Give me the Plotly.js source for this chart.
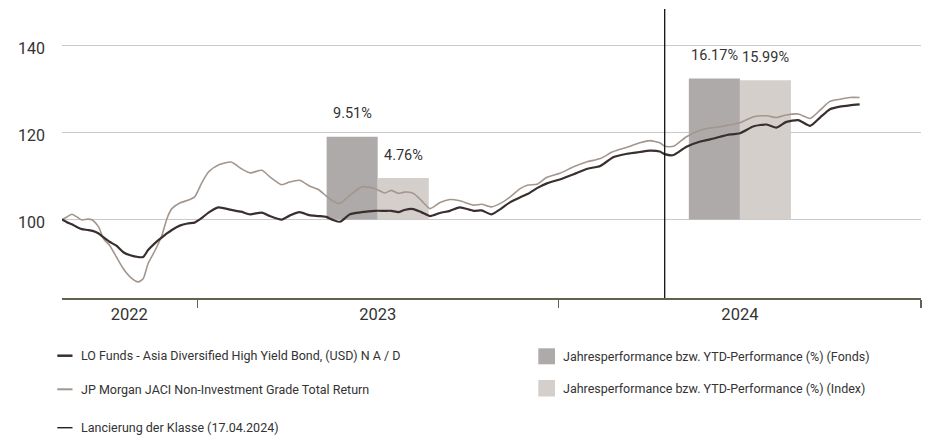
<!DOCTYPE html>
<html>
<head>
<meta charset="utf-8">
<script src="https://cdn.plot.ly/plotly-3.0.1.min.js"></script>
<style>html,body{margin:0;padding:0;background:#fff;}</style>
</head>
<body>
<div id="chart" style="width:927px;height:435px;"></div>
<script>
// ---------- DATA ----------
const dates = [
  '2022-08-17','2022-08-22','2022-08-27','2022-09-01','2022-09-06','2022-09-12','2022-09-17','2022-09-23','2022-09-28','2022-10-04',
  '2022-10-11','2022-10-18','2022-10-25','2022-11-02','2022-11-07','2022-11-12','2022-11-19','2022-11-26','2022-12-01','2022-12-06',
  '2022-12-14','2022-12-22','2022-12-29','2023-01-05','2023-01-12','2023-01-22','2023-02-04','2023-02-14','2023-02-23','2023-03-07',
  '2023-03-15','2023-03-27','2023-04-04','2023-04-14','2023-04-24','2023-05-03','2023-05-11','2023-05-18','2023-05-25','2023-06-04',
  '2023-06-16','2023-06-29','2023-07-09','2023-07-16','2023-07-23','2023-07-29','2023-08-07','2023-08-15','2023-08-24','2023-09-03',
  '2023-09-13','2023-09-23','2023-10-07','2023-10-15','2023-10-25','2023-11-03','2023-11-13','2023-11-23','2023-12-01','2023-12-10',
  '2023-12-20','2024-01-02','2024-01-16','2024-01-29','2024-02-12','2024-02-25','2024-03-10','2024-03-23','2024-04-02','2024-04-12',
  '2024-04-17','2024-04-26','2024-05-09','2024-05-23','2024-06-02','2024-06-12','2024-06-19','2024-07-02','2024-07-16','2024-07-29',
  '2024-08-08','2024-08-18','2024-08-30','2024-09-11','2024-09-21','2024-10-01','2024-10-11','2024-10-21','2024-10-31'
];
const fundValues = [
  100.0, 99.4, 98.9, 98.3, 97.8, 97.6, 97.4, 96.8, 95.9, 94.9,
  94.0, 92.5, 91.8, 91.4, 91.4, 93.0, 94.6, 95.9, 96.8, 97.6,
  98.6, 99.1, 99.3, 100.3, 101.6, 102.8, 102.2, 101.8, 101.2, 101.6,
  100.8, 100.0, 100.9, 101.7, 101.0, 100.8, 100.6, 99.9, 99.5, 101.2,
  101.7, 102.0, 102.0, 102.0, 101.7, 102.2, 102.4, 101.7, 100.8, 101.5,
  102.0, 102.8, 102.0, 102.1, 101.2, 102.4, 104.0, 105.1, 105.9, 107.2,
  108.3, 109.2, 110.4, 111.6, 112.3, 114.3, 115.1, 115.5, 115.8, 115.6,
  115.0, 114.8, 116.7, 117.9, 118.4, 119.0, 119.4, 119.8, 121.4, 121.8,
  121.1, 122.4, 122.8, 121.5, 123.4, 125.3, 125.9, 126.2, 126.4
];
const indexValues = [
  100.0, 100.6, 101.2, 100.6, 99.9, 100.1, 99.85, 98.3, 95.6, 94.1,
  91.4, 88.7, 86.8, 85.7, 86.4, 89.9, 92.9, 96.4, 100.2, 102.5,
  103.8, 104.4, 105.2, 108.3, 110.9, 112.5, 113.2, 111.7, 110.7, 111.3,
  109.8, 108.0, 108.6, 109.0, 107.7, 106.9, 105.4, 104.2, 103.7, 105.6,
  107.5, 107.1, 106.1, 106.7, 106.0, 106.3, 106.0, 104.4, 102.5, 103.9,
  104.6, 104.3, 103.3, 103.5, 102.9, 103.7, 105.2, 107.1, 107.9, 108.1,
  109.7, 110.6, 112.1, 113.2, 114.0, 115.6, 116.6, 117.6, 118.1, 117.6,
  116.8, 116.8, 119.0, 120.5, 121.0, 121.3, 121.6, 122.2, 123.6, 123.8,
  123.4, 124.0, 124.2, 123.2, 125.1, 127.1, 127.6, 128.0, 128.0
];
const perfDates = ['2023-07-02', '2024-07-02'];
const fundPerf = [9.51, 16.17];
const indexPerf = [4.76, 15.99];
const launchDate = '2024-04-17';
const yearLabels = ['2022', '2023', '2024'];
const yearLabelDates = ['2022-10-24', '2023-07-02', '2024-07-02'];
const yearBoundaries = ['2023-01-01', '2024-01-01', '2025-01-01'];
const yTicks = [100, 120, 140];
const seriesNames = [
  'LO Funds - Asia Diversified High Yield Bond, (USD) N A / D',
  'JP Morgan JACI Non-Investment Grade Total Return',
  'Lancierung der Klasse (17.04.2024)',
  'Jahresperformance bzw. YTD-Performance (%) (Fonds)',
  'Jahresperformance bzw. YTD-Performance (%) (Index)'
];

// ---------- STYLE ----------
const FONT = '"Roboto", "Liberation Sans", sans-serif';
const TXT = '#333333';
const C_FUND = '#3a2f2f';
const C_INDEX = '#a3968d';
const C_BAR_FUND = '#aeaaa9';
const C_BAR_INDEX = '#d4cfcb';
const C_AXIS = '#62624e';

const W = 927, H = 435;
const M = {l: 62, r: 6, t: 9, b: 137};
const PW = W - M.l - M.r, PH = H - M.t - M.b;
const px = x => (x - M.l) / PW;
const py = y => (H - M.b - y) / PH;

const barW = 51.6 * 86400000;

const traces = [
  {type: 'bar', name: seriesNames[3], x: perfDates, y: fundPerf, width: [barW, barW], offset: -barW,
   marker: {color: C_BAR_FUND, line: {width: 0}}, xaxis: 'x', yaxis: 'y', hoverinfo: 'skip'},
  {type: 'bar', name: seriesNames[4], x: perfDates, y: indexPerf, width: [barW, barW], offset: 0,
   marker: {color: C_BAR_INDEX, line: {width: 0}}, xaxis: 'x', yaxis: 'y', hoverinfo: 'skip'},
  {type: 'scatter', mode: 'lines', name: seriesNames[1], x: dates, y: indexValues, xaxis: 'x', yaxis: 'y2',
   line: {color: C_INDEX, width: 1.6, shape: 'spline', smoothing: 0.6}},
  {type: 'scatter', mode: 'lines', name: seriesNames[0], x: dates, y: fundValues, xaxis: 'x', yaxis: 'y2',
   line: {color: C_FUND, width: 2.2, shape: 'spline', smoothing: 0.6}}
];

const annotations = [];
perfDates.forEach((d, i) => {
  annotations.push({x: d, y: fundPerf[i], xref: 'x', yref: 'y', text: fundPerf[i].toFixed(2) + '%',
    showarrow: false, xshift: -25.5, yshift: 23, yanchor: 'middle', font: {size: 14.5, color: TXT}});
  annotations.push({x: d, y: indexPerf[i], xref: 'x', yref: 'y', text: indexPerf[i].toFixed(2) + '%',
    showarrow: false, xshift: 25.5, yshift: 23, yanchor: 'middle', font: {size: 14.5, color: TXT}});
});

const shapes = [
  {type: 'line', xref: 'x', yref: 'paper', x0: launchDate, x1: launchDate, y0: 0, y1: 1,
   line: {color: '#111111', width: 1.3}}
];

// legend (drawn manually)
const legLines = [
  {y: 355.7, color: C_FUND, width: 2.5, text: seriesNames[0]},
  {y: 389.3, color: C_INDEX, width: 2, text: seriesNames[1]},
  {y: 427.7, color: '#222222', width: 1.4, text: seriesNames[2]}
];
legLines.forEach(it => {
  shapes.push({type: 'line', xref: 'paper', yref: 'paper', x0: px(57.3), x1: px(72.5), y0: py(it.y), y1: py(it.y),
    line: {color: it.color, width: it.width}});
  annotations.push({xref: 'paper', yref: 'paper', x: px(79), y: py(it.y), xanchor: 'left', yanchor: 'middle',
    text: it.text, showarrow: false, font: {size: 12.5, color: TXT}});
});
const legBoxes = [
  {y0: 348.3, y1: 364.3, color: C_BAR_FUND, text: seriesNames[3]},
  {y0: 380, y1: 396.5, color: C_BAR_INDEX, text: seriesNames[4]}
];
legBoxes.forEach(it => {
  shapes.push({type: 'rect', xref: 'paper', yref: 'paper', x0: px(538.3), x1: px(555), y0: py(it.y1), y1: py(it.y0),
    fillcolor: it.color, line: {width: 0}});
  annotations.push({xref: 'paper', yref: 'paper', x: px(560.7), y: py((it.y0 + it.y1) / 2), xanchor: 'left', yanchor: 'middle',
    text: it.text, showarrow: false, font: {size: 12.5, color: TXT}});
});

const layout = {
  width: W, height: H,
  margin: M,
  paper_bgcolor: '#ffffff', plot_bgcolor: '#ffffff',
  font: {family: FONT, size: 13, color: TXT},
  showlegend: false,
  barmode: 'overlay',
  xaxis: {
    type: 'date', range: ['2022-08-17', '2025-01-01'],
    tickmode: 'array', tickvals: yearLabelDates, ticktext: yearLabels,
    ticks: '', showgrid: false, zeroline: false,
    showline: true, linecolor: C_AXIS, linewidth: 1.5,
    tickfont: {size: 16.5, color: TXT}, ticklabelstandoff: 1,
    minor: {tickmode: 'array', tickvals: yearBoundaries, ticks: 'outside', ticklen: 8.5, tickwidth: 1.4, tickcolor: C_AXIS, showgrid: false}
  },
  yaxis: {range: [-9, 24.15], visible: false, showgrid: false, zeroline: false},
  yaxis2: {
    overlaying: 'y', side: 'left', range: [82, 148.3],
    tickmode: 'array', tickvals: yTicks,
    showgrid: true, gridcolor: '#c9c9c9', gridwidth: 1.2,
    zeroline: false, showline: false, ticks: '',
    tickfont: {size: 16, color: TXT}, ticklabelstandoff: 16, ticklabelshift: 3
  },
  shapes: shapes,
  annotations: annotations
};

Plotly.newPlot('chart', traces, layout, {staticPlot: true, displayModeBar: false});
</script>
</body>
</html>
